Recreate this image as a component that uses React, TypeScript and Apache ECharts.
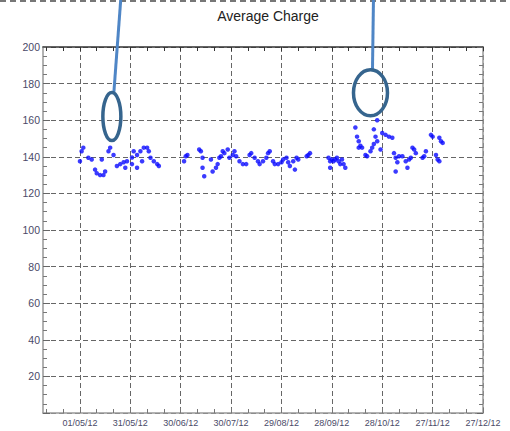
import React, { useEffect, useRef } from "react";
import * as echarts from "echarts";

// ---- data ----
const chargeDates: string[] = [
  "2012-05-01","2012-05-02","2012-05-03","2012-05-06","2012-05-08","2012-05-10","2012-05-11","2012-05-13",
  "2012-05-14","2012-05-15","2012-05-16","2012-05-18","2012-05-19","2012-05-21","2012-05-23","2012-05-25",
  "2012-05-27","2012-05-28","2012-05-29","2012-06-01","2012-06-01","2012-06-02","2012-06-04","2012-06-04",
  "2012-06-06","2012-06-07","2012-06-08","2012-06-10","2012-06-11","2012-06-12","2012-06-14","2012-06-16",
  "2012-06-17",
  "2012-07-02","2012-07-03","2012-07-04","2012-07-11","2012-07-12","2012-07-13","2012-07-13","2012-07-14",
  "2012-07-18","2012-07-19","2012-07-21","2012-07-22","2012-07-23","2012-07-24","2012-07-25","2012-07-26",
  "2012-07-28","2012-07-29","2012-07-31","2012-08-01","2012-08-02","2012-08-04","2012-08-06","2012-08-08",
  "2012-08-10","2012-08-11","2012-08-13","2012-08-15","2012-08-16","2012-08-18","2012-08-20","2012-08-21",
  "2012-08-22","2012-08-24","2012-08-25","2012-08-27","2012-08-29","2012-08-30","2012-09-01","2012-09-02",
  "2012-09-03","2012-09-05","2012-09-06","2012-09-07","2012-09-08","2012-09-13","2012-09-14","2012-09-15",
  "2012-09-26","2012-09-27","2012-09-27","2012-09-28","2012-09-29","2012-09-30","2012-10-01","2012-10-02",
  "2012-10-03","2012-10-04","2012-10-05","2012-10-06",
  "2012-10-12","2012-10-13","2012-10-14","2012-10-14","2012-10-15","2012-10-16","2012-10-18","2012-10-19",
  "2012-10-21","2012-10-22","2012-10-23","2012-10-23","2012-10-24","2012-10-25","2012-10-25","2012-10-27",
  "2012-10-28","2012-10-30","2012-11-01","2012-11-03","2012-11-04","2012-11-05","2012-11-05","2012-11-06",
  "2012-11-07","2012-11-09","2012-11-11","2012-11-12","2012-11-13","2012-11-14","2012-11-15","2012-11-16",
  "2012-11-17","2012-11-21","2012-11-22","2012-11-23","2012-11-26","2012-11-27","2012-11-29","2012-11-30",
  "2012-12-01","2012-12-01","2012-12-02","2012-12-03",
];
const chargeValues: number[] = [
  137.6,143,145,139.5,138.5,133,131,130,
  138.5,130,132,143,145,141,135,136,
  137,134,137.6,139.6,136,143,141,134,
  143,137.6,145,145,143,139.5,137.6,136,
  135,
  137.6,140.3,141,144,143,139.5,134,129.4,
  138.5,132,134,136,139.5,140.3,143,142,
  144,139.5,141,143,140.3,137.6,136,136,
  141,142,139.5,137.6,136,137.6,139.5,142,
  143,137.6,136,136,137,138.5,139.5,137,
  135,137.6,133,139.5,138.5,140.3,141,142,
  139.5,137.6,134,138.5,137.6,138.5,139.5,137.6,
  136,138.5,136,134,
  156,151,148.5,145,146,145,141,140.3,
  143,145,147,155,151,148.5,160,144,
  153,152,151,150.4,142,139.5,132,137,
  140.3,140.3,137.6,134,138.5,139.5,145,144,
  142,139.5,140.3,143,152,151,141,138.5,
  150.4,137.6,148.5,147.6,
];
const xTickLabels: string[] = [
  "01/05/12","31/05/12","30/06/12","30/07/12","29/08/12","28/09/12","28/10/12","27/11/12","27/12/12",
];
const xRangeStart = "2012-04-09";
const xRangeEnd = "2012-12-27";
const yMin = 0;
const yMax = 200;
const yStep = 20;
const callouts: { date: string; value: number }[] = [
  { date: "2012-05-20", value: 162 },
  { date: "2012-10-21", value: 175 },
];

// ---- helpers ----
const ORIGIN = Date.UTC(2012, 4, 1);
const DAY = 86400000;
function dayOf(iso: string): number {
  const [y, m, d] = iso.split("-").map(Number);
  return Math.round((Date.UTC(y, m - 1, d) - ORIGIN) / DAY);
}
function dayOfLabel(lbl: string): number {
  const [d, m, y] = lbl.split("/").map(Number);
  return Math.round((Date.UTC(2000 + y, m - 1, d) - ORIGIN) / DAY);
}
function labelOfDay(v: number): string {
  const dt = new Date(ORIGIN + v * DAY);
  const dd = String(dt.getUTCDate()).padStart(2, "0");
  const mm = String(dt.getUTCMonth() + 1).padStart(2, "0");
  const yy = String(dt.getUTCFullYear() % 100).padStart(2, "0");
  return `${dd}/${mm}/${yy}`;
}

export default function App() {
  const ref = useRef<HTMLDivElement>(null);
  useEffect(() => {
    if (!ref.current) return;
    const chart = echarts.init(ref.current, undefined, { renderer: "svg" });
    const xMin = dayOf(xRangeStart);
    const xMax = dayOf(xRangeEnd);
    const majorX = xTickLabels.map(dayOfLabel);
    const minorX: number[] = [];
    for (let v = majorX[0] - 20; v <= xMax; v += 10) if (v >= xMin) minorX.push(v);
    const points = chargeDates.map((d, i) => [dayOf(d), chargeValues[i]]);
    const gridLine = { show: true, lineStyle: { color: "#666", type: [5, 3] as any, width: 1 } };
    const labelColor = "#4a4a68";
    const font = "Liberation Sans, Arial, sans-serif";

    chart.setOption({
      animation: false,
      backgroundColor: "#fff",
      title: {
        text: "Average Charge",
        left: 263,
        top: 4,
        textAlign: "center",
        textStyle: { fontSize: 14, fontWeight: "normal", color: "#222", fontFamily: font },
      },
      grid: { left: 43, right: 27, top: 47, bottom: 18, containLabel: false },
      xAxis: [
        {
          type: "value",
          position: "bottom",
          min: xMin,
          max: xMax,
          axisLine: { show: true, onZero: false, lineStyle: { color: "#999", width: 1.5 } },
          axisTick: { show: true, inside: true, length: 5, customValues: majorX, lineStyle: { color: "#777" } },
          axisLabel: {
            show: true,
            customValues: majorX,
            formatter: (v: number) => labelOfDay(v),
            color: labelColor,
            fontSize: 9,
            margin: 5,
            fontFamily: font,
          },
          splitLine: gridLine,
        },
        {
          type: "value",
          position: "bottom",
          offset: 0,
          min: xMin,
          max: xMax,
          axisLine: { show: false, onZero: false },
          axisTick: { show: true, inside: true, length: 4, customValues: minorX, lineStyle: { color: "#777" } },
          axisLabel: { show: false },
          splitLine: { show: false },
        },
        {
          type: "value",
          position: "top",
          offset: 0,
          min: xMin,
          max: xMax,
          axisLine: { show: true, onZero: false, lineStyle: { color: "#333", width: 1.5 } },
          axisTick: { show: true, inside: true, length: 4, customValues: minorX, lineStyle: { color: "#333" } },
          axisLabel: { show: false },
          splitLine: { show: false },
        },
      ],
      yAxis: [
        {
          type: "value",
          position: "left",
          min: yMin,
          max: yMax,
          interval: yStep,
          axisLine: { show: true, onZero: false, lineStyle: { color: "#999", width: 1.5 } },
          axisTick: { show: true, inside: true, length: 7, lineStyle: { color: "#666" } },
          minorTick: { show: true, splitNumber: 4, length: 4, lineStyle: { color: "#777" } },
          axisLabel: {
            show: true,
            showMinLabel: false,
            color: labelColor,
            fontSize: 10.5,
            margin: 3,
            fontFamily: font,
          },
          splitLine: gridLine,
        },
        {
          type: "value",
          position: "right",
          min: yMin,
          max: yMax,
          interval: yStep,
          axisLine: { show: true, onZero: false, lineStyle: { color: "#999", width: 1.5 } },
          axisTick: { show: true, inside: true, length: 6, lineStyle: { color: "#666" } },
          minorTick: { show: true, splitNumber: 4, length: 4, lineStyle: { color: "#777" } },
          axisLabel: { show: false },
          splitLine: { show: false },
        },
      ],
      series: [
        {
          type: "scatter",
          xAxisIndex: 0,
          yAxisIndex: 0,
          symbol: "circle",
          symbolSize: 4.5,
          itemStyle: { color: "#0a0aff" },
          data: points,
        },
      ],
    });

    const graphics: any[] = [
      {
        type: "line",
        shape: { x1: 0, y1: 1, x2: 510, y2: 1 },
        style: { stroke: "#777", lineWidth: 2, lineDash: [6, 4] },
        z: 10,
      },
    ];
    const sizes = [
      { rx: 9, ry: 24, dxTop: 9 },
      { rx: 17, ry: 23, dxTop: 3 },
    ];
    callouts.forEach((c, i) => {
      const p = chart.convertToPixel({ gridIndex: 0 }, [dayOf(c.date), c.value]) as number[];
      const s = sizes[i];
      graphics.push({
        type: "line",
        shape: { x1: p[0] + s.dxTop, y1: -2, x2: p[0] + 2, y2: p[1] - s.ry },
        style: { stroke: "#4f86c6", lineWidth: 3 },
        z: 20,
      });
      graphics.push({
        type: "ellipse",
        shape: { cx: p[0], cy: p[1], rx: s.rx, ry: s.ry },
        style: { stroke: "#36658e", lineWidth: 3.5, fill: "none" },
        z: 21,
      });
    });
    chart.setOption({ graphic: graphics });

    return () => chart.dispose();
  }, []);

  return (
    <div
      ref={ref}
      style={{ position: "absolute", left: 0, top: 0, width: 510, height: 431, background: "#fff" }}
    />
  );
}
